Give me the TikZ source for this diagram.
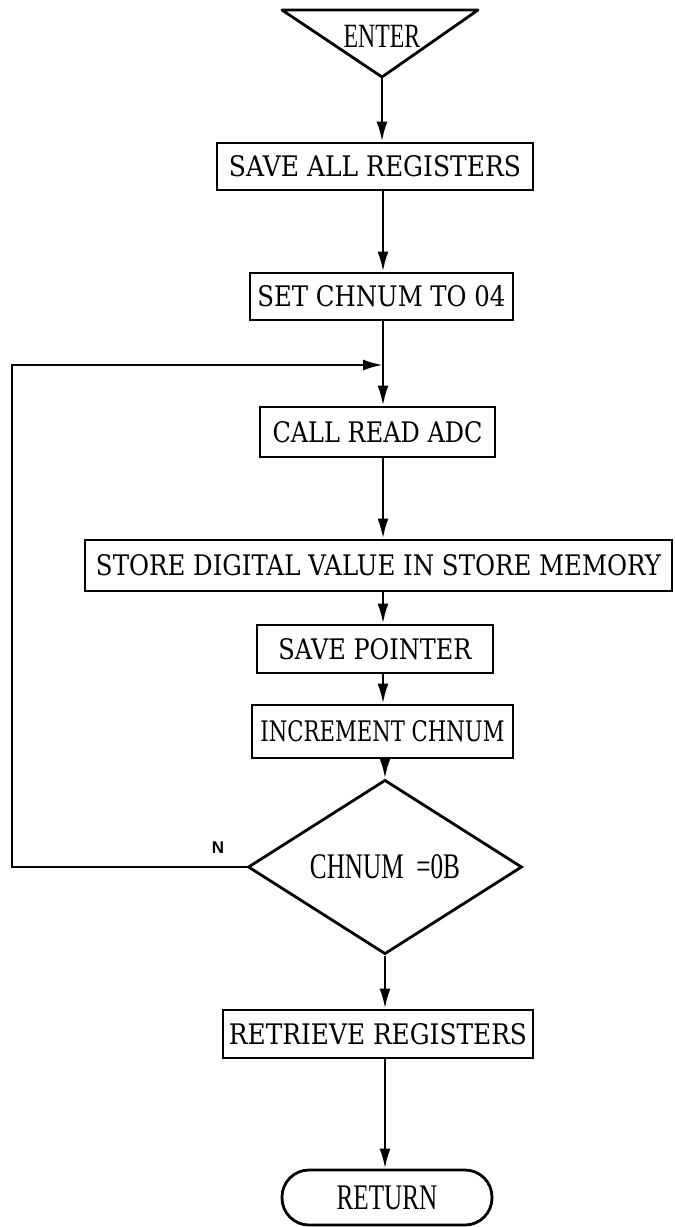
\documentclass[tikz,border=0pt]{standalone}
\usepackage{fontspec}
\usepackage{graphicx}
\usetikzlibrary{arrows.meta,shapes.geometric}
\newfontfamily\twfont{DejaVu Serif}
\newfontfamily\nserif[FakeStretch=0.7]{Liberation Serif}
\newfontfamily\nlab{Liberation Sans}
\newcommand\fittext[2]{\resizebox{#1}{21pt}{#2}}
\begin{document}
\begin{tikzpicture}[x=1pt,y=-1pt,
  box/.style={draw,line width=2.8pt,inner sep=0pt,
    font=\twfont\fontsize{30pt}{32pt}\selectfont},
  arr/.style={line width=2.6pt,-{Latex[length=20pt,width=11pt]}},
  term/.style={draw,line width=2.8pt,inner sep=0pt,rounded corners=27pt,
    font=\nserif\fontsize{36pt}{38pt}\selectfont},
  decision/.style={draw,diamond,line width=2.8pt,inner sep=0pt,
    font=\nserif\fontsize{36pt}{38pt}\selectfont},
  lbl/.style={inner sep=0pt,font=\nlab\bfseries\fontsize{17pt}{19pt}\selectfont}]
\useasboundingbox (0,0) rectangle (675,1227);
% axis
\coordinate (ax) at (383,0);
% entry triangle
\coordinate (tl) at (282,10);
\coordinate (tr) at (478,10);
\coordinate (apex) at (382,77);
\draw[line width=2.8pt,line join=round] (tl) -- (tr) -- (apex) -- cycle;
\node[inner sep=0pt,font=\nserif\fontsize{34pt}{36pt}\selectfont] (enter) at (382,36) {ENTER};
% boxes
\node[box,minimum width=316pt,minimum height=47pt] (save) at (375,166.5) {\fittext{292pt}{SAVE ALL REGISTERS}};
\node[box,minimum width=263pt,minimum height=47pt] (set) at (381.5,296.5) {\fittext{248pt}{SET CHNUM TO 04}};
\node[box,minimum width=235pt,minimum height=50pt] (call) at (377.5,432) {\fittext{210pt}{CALL READ ADC}};
\node[box,minimum width=587pt,minimum height=51pt] (store) at (378.5,565.5) {\fittext{565pt}{STORE DIGITAL VALUE IN STORE MEMORY}};
\node[box,minimum width=236pt,minimum height=48pt] (ptr) at (375,649) {\fittext{193pt}{SAVE POINTER}};
\node[box,minimum width=261pt,minimum height=53pt] (inc) at (382.5,731.5) {\fittext{244pt}{INCREMENT CHNUM}};
\node[decision,minimum width=274pt,minimum height=78pt] (dia) at (385,867) {CHNUM\ \ =0B};
\node[box,minimum width=310pt,minimum height=48pt] (ret) at (378,1034) {\fittext{298pt}{RETRIEVE REGISTERS}};
\node[term,minimum width=210pt,minimum height=55pt] (rtn) at (387,1197.5) {RETURN};
\node[lbl] (n) at (218,848) {N};
% connectors
\draw[arr] (apex) -- (apex |- save.north);
\draw[arr] (ax |- save.south) -- (ax |- set.north);
\coordinate (j) at (383,365);
\coordinate (lc) at (12,365);
\draw[arr] (ax |- set.south) -- (ax |- call.north);
\draw[arr] (ax |- call.south) -- (ax |- store.north);
\draw[arr] (ax |- store.south) -- (ax |- ptr.north);
\draw[arr] (ax |- ptr.south) -- (ax |- inc.north);
\draw[arr] (dia |- inc.south) -- (dia.north);
\draw[arr] (dia.south) -- (dia.south |- ret.north);
\draw[arr] (dia.south |- ret.south) -- (dia.south |- rtn.north);
\draw[arr] (dia.west) -| (lc) -- (j);
\end{tikzpicture}
\end{document}
